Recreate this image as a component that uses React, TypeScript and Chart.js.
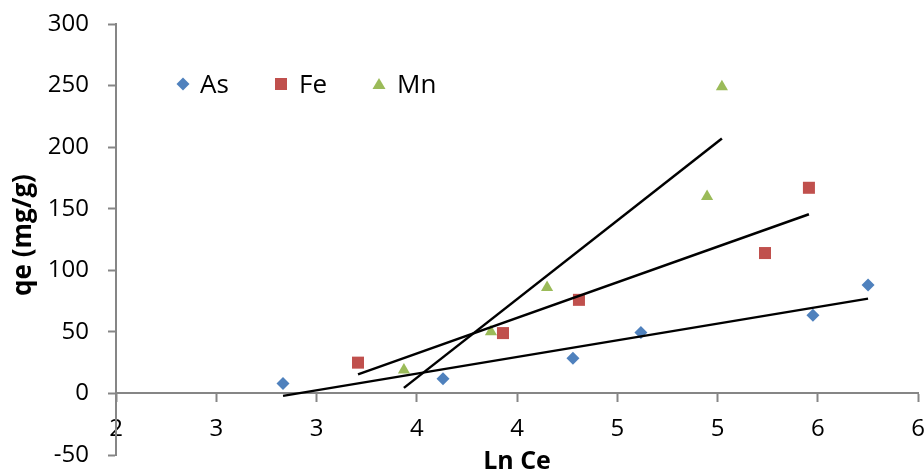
import React, { useEffect, useRef } from 'react';
import { Chart, registerables } from 'chart.js';

Chart.register(...registerables);

// ---- data ----
const seriesNames = ['As', 'Fe', 'Mn'];
const seriesColors = ['#4F81BD', '#C0504D', '#9BBB59'];

const asX = [2.833, 3.631, 4.279, 4.618, 5.476, 5.751];
const asY = [8, 12, 28.5, 49.5, 63.5, 88];
const feX = [3.207, 3.93, 4.309, 5.237, 5.456];
const feY = [25, 49, 76, 114, 167];
const mnX = [3.436, 3.87, 4.15, 4.948, 5.022];
const mnY = [19, 50, 86, 160, 249];

// linear trendlines (end points)
const asTrendX = [2.833, 5.751];
const asTrendY = [-2, 77];
const feTrendX = [3.207, 5.456];
const feTrendY = [15.5, 145.5];
const mnTrendX = [3.436, 5.022];
const mnTrendY = [4.5, 207];

const xTickValues = [2, 2.5, 3, 3.5, 4, 4.5, 5, 5.5, 6];
const xTickLabels = ['2', '3', '3', '4', '4', '5', '5', '6', '6'];
const yTickValues = [-50, 0, 50, 100, 150, 200, 250, 300];

const xTitle = 'Ln Ce';
const yTitle = 'qe (mg/g)';

const FONT = "'Open Sans', 'Noto Sans', sans-serif";
const AXIS = '#868686';

const pts = (xs: number[], ys: number[]) => xs.map((x, i) => ({ x, y: ys[i] }));

const overlayPlugin = {
  id: 'overlay',
  afterDraw(chart: any) {
    const ctx = chart.ctx as CanvasRenderingContext2D;
    const area = chart.chartArea;
    ctx.save();
    // legend (floating inside the plot)
    const legendItems = [
      { mx: 183, tx: 200 },
      { mx: 281, tx: 299 },
      { mx: 379, tx: 397 },
    ];
    const ly = 84;
    ctx.font = `26px ${FONT}`;
    ctx.textBaseline = 'alphabetic';
    ctx.textAlign = 'left';
    legendItems.forEach((it, i) => {
      ctx.fillStyle = seriesColors[i];
      ctx.beginPath();
      if (i === 0) {
        ctx.moveTo(it.mx, ly - 6.5);
        ctx.lineTo(it.mx + 6.5, ly);
        ctx.lineTo(it.mx, ly + 6.5);
        ctx.lineTo(it.mx - 6.5, ly);
      } else if (i === 1) {
        ctx.rect(it.mx - 6, ly - 6, 12, 12);
      } else {
        ctx.moveTo(it.mx, ly - 6);
        ctx.lineTo(it.mx + 6.5, ly + 5);
        ctx.lineTo(it.mx - 6.5, ly + 5);
      }
      ctx.closePath();
      ctx.fill();
      ctx.fillStyle = '#000';
      ctx.fillText(seriesNames[i], it.tx, ly + 9);
    });

    // axis titles
    ctx.fillStyle = '#000';
    ctx.font = `bold 25px ${FONT}`;
    ctx.textAlign = 'center';
    ctx.textBaseline = 'middle';
    ctx.fillText(xTitle, (area.left + area.right) / 2, 462);
    ctx.save();
    ctx.translate(24, 235);
    ctx.rotate(-Math.PI / 2);
    ctx.font = `bold 26px ${FONT}`;
    ctx.fillText(yTitle, 0, 0);
    ctx.restore();
    ctx.restore();
  },
};

export default function App() {
  const ref = useRef<HTMLCanvasElement>(null);

  useEffect(() => {
    if (!ref.current) return;
    const trendStyle = {
      type: 'line' as const,
      borderColor: '#000',
      borderWidth: 2.5,
      pointRadius: 0,
      showLine: true,
      fill: false,
      order: 0,
    };
    const chart = new Chart(ref.current, {
      type: 'scatter',
      data: {
        datasets: [
          { ...trendStyle, label: 'As trend', data: pts(asTrendX, asTrendY) },
          { ...trendStyle, label: 'Fe trend', data: pts(feTrendX, feTrendY) },
          { ...trendStyle, label: 'Mn trend', data: pts(mnTrendX, mnTrendY) },
          {
            label: seriesNames[0],
            data: pts(asX, asY),
            pointStyle: 'rectRot',
            pointRadius: 6.5,
            pointBorderWidth: 0,
            backgroundColor: seriesColors[0],
            borderColor: seriesColors[0],
            order: 1,
          },
          {
            label: seriesNames[1],
            data: pts(feX, feY),
            pointStyle: 'rect',
            pointRadius: 8.5,
            pointBorderWidth: 0,
            backgroundColor: seriesColors[1],
            borderColor: seriesColors[1],
            order: 1,
          },
          {
            label: seriesNames[2],
            data: pts(mnX, mnY),
            pointStyle: 'triangle',
            pointRadius: 7,
            pointBorderWidth: 0,
            backgroundColor: seriesColors[2],
            borderColor: seriesColors[2],
            order: 1,
          },
        ],
      },
      options: {
        animation: false,
        responsive: true,
        maintainAspectRatio: false,
        layout: { padding: { left: 0, top: 24, right: 22, bottom: 19 } },
        plugins: {
          legend: { display: false },
          tooltip: { enabled: false },
        },
        scales: {
          x: {
            type: 'linear',
            position: { y: 0 } as any,
            min: 2,
            max: 6,
            afterBuildTicks: (scale: any) => {
              scale.ticks = xTickValues.map((v) => ({ value: v }));
            },
            afterFit: (scale: any) => {
              scale.paddingLeft = 0;
              scale.paddingRight = 0;
            },
            ticks: {
              callback: (_v: any, i: number) => xTickLabels[i],
              color: '#000',
              font: { family: FONT, size: 24 },
              padding: 13,
              maxRotation: 0,
              autoSkip: false,
            },
            grid: {
              drawOnChartArea: false,
              drawTicks: true,
              tickLength: 8,
              tickColor: AXIS,
              tickWidth: 2,
            },
            border: { display: true, color: AXIS, width: 2 },
          },
          y: {
            type: 'linear',
            position: 'left',
            min: -50,
            max: 300,
            afterBuildTicks: (scale: any) => {
              scale.ticks = yTickValues.map((v) => ({ value: v }));
            },
            afterFit: (scale: any) => {
              scale.width = 116;
              scale.paddingTop = 0;
              scale.paddingBottom = 0;
            },
            ticks: {
              color: '#000',
              font: { family: FONT, size: 24 },
              padding: 19,
            },
            grid: {
              drawOnChartArea: false,
              drawTicks: true,
              tickLength: 8,
              tickColor: AXIS,
              tickWidth: 2,
            },
            border: { display: true, color: AXIS, width: 2 },
          },
        },
      },
      plugins: [overlayPlugin],
    });
    return () => chart.destroy();
  }, []);

  return (
    <div
      style={{
        position: 'fixed',
        left: 0,
        top: 0,
        width: 924,
        height: 474,
        overflow: 'hidden',
        background: '#fff',
      }}
    >
      <div style={{ position: 'relative', width: 940, height: 474 }}>
        <canvas ref={ref} />
      </div>
    </div>
  );
}
